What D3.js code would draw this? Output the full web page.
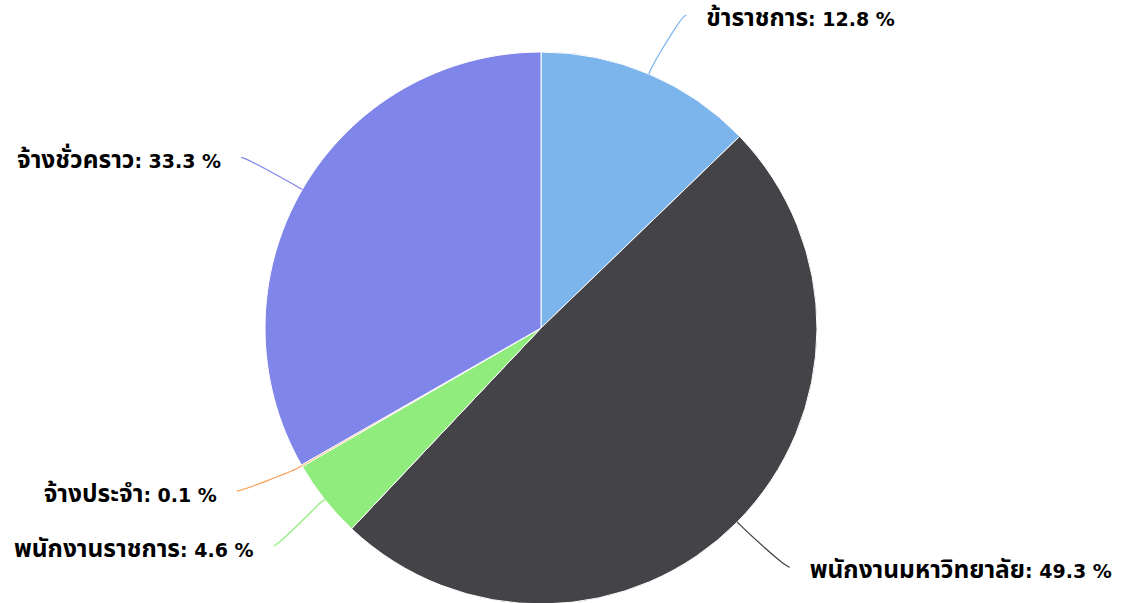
<!DOCTYPE html>
<html lang="th">
<head>
	<meta charset="utf-8">
	<title>Pie - staff types</title>
	<script src="https://d3js.org/d3.v7.min.js"></script>
	<style>
		body { margin: 0; background: #fff; }
	</style>
</head>
<body>
	<div id="chart"></div>
	<script>
		// data
		let categories = ["ข้าราชการ", "พนักงานมหาวิทยาลัย", "พนักงานราชการ", "จ้างประจำ", "จ้างชั่วคราว"];
		let values = [12.8, 49.3, 4.6, 0.1, 33.3];
		let colors = ["#7cb5ec", "#434348", "#90ed7d", "#f7a35c", "#8085e9"];

		let width = 1124;
		let height = 603;
		let cx = 541;
		let cy = 328;
		let radius = 276;
		let labelR = 340;   // where the label y comes from
		let connR = 345;    // where the connector ends, x from y
		let minGap = 55;

		let svg = d3.select("#chart")
			.append("svg")
			.attr("width", width)
			.attr("height", height);

		let g = svg.append("g")
			.attr("transform", "translate(" + cx + "," + cy + ")");

		let pieData = d3.pie()
			.sort(null)
			.value(function(d) { return d; })(values);

		let arc = d3.arc().innerRadius(0).outerRadius(radius);

		g.selectAll("path.slice")
			.data(pieData)
			.enter()
			.append("path")
			.attr("class", "slice")
			.attr("d", arc)
			.attr("fill", function(d, i) { return colors[i]; })
			.attr("stroke", "#fff")
			.attr("stroke-width", 1)
			.attr("stroke-linejoin", "round");

		// label positions
		let labels = pieData.map(function(d, i) {
			let a = (d.startAngle + d.endAngle) / 2;
			return {
				i: i,
				a: a,
				side: Math.sin(a) >= 0 ? 1 : -1,
				y: -Math.cos(a) * labelR
			};
		});

		// push apart labels that sit too close on the same side
		[1, -1].forEach(function(side) {
			let group = labels.filter(function(l) { return l.side === side; })
				.sort(function(a, b) { return a.y - b.y; });
			for (let k = 1; k < group.length; k++) {
				let gap = group[k].y - group[k - 1].y;
				if (gap < minGap) {
					let shift = (minGap - gap) / 2;
					group[k - 1].y -= shift;
					group[k].y += shift;
				}
			}
		});

		labels.forEach(function(l) {
			let y = l.y;
			let x = l.side * Math.sqrt(Math.max(0, connR * connR - y * y));
			let touch = [Math.sin(l.a) * radius, -Math.cos(l.a) * radius];
			let brk = [Math.sin(l.a) * (radius + 5), -Math.cos(l.a) * (radius + 5)];
			let c2 = [2 * brk[0] - touch[0], 2 * brk[1] - touch[1]];
			let p = d3.path();
			p.moveTo(x, y);
			p.bezierCurveTo(x - l.side * 5, y, c2[0], c2[1], brk[0], brk[1]);
			p.lineTo(touch[0], touch[1]);

			g.append("path")
				.attr("d", p.toString())
				.attr("fill", "none")
				.attr("stroke", colors[l.i])
				.attr("stroke-width", 1.3);

			let t = g.append("text")
				.attr("x", x + l.side * 20)
				.attr("y", y + 11)
				.attr("text-anchor", l.side > 0 ? "start" : "end")
				.attr("font-family", "'DejaVu Sans', 'Noto Sans Thai', sans-serif")
				.attr("font-weight", "bold")
				.attr("font-size", "19px")
				.attr("fill", "#000")
				.attr("stroke", "#fff")
				.attr("stroke-width", 2)
				.attr("paint-order", "stroke");
			// the Thai part is drawn a bit larger, as in the picture
			t.append("tspan")
				.attr("font-size", "24.5px")
				.text(categories[l.i]);
			t.append("tspan")
				.text(": " + values[l.i] + " %");
		});
	</script>
</body>
</html>
